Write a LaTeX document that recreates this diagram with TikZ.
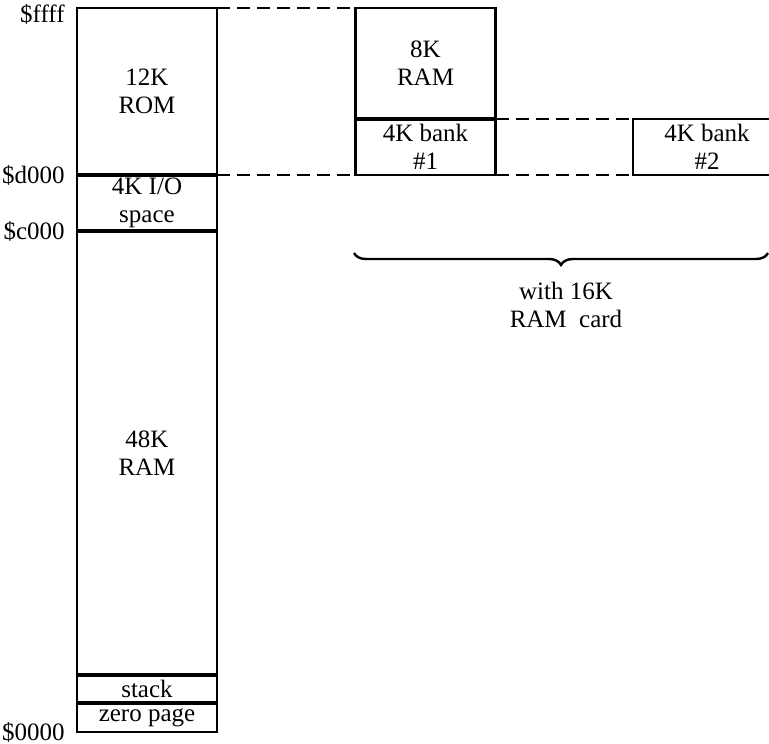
\documentclass[tikz,border=0pt]{standalone}
\usepackage{fontspec}
\setmainfont{Liberation Serif}
\usetikzlibrary{positioning,decorations.pathreplacing}
\newcommand{\mapfont}{\fontsize{12.5}{14}\selectfont}

\begin{document}
\begin{tikzpicture}[x=0.5pt,y=-0.5pt,
    blk/.style={draw,line width=1.1pt,minimum width=70pt,inner sep=0pt,
      outer sep=0pt,align=center,font=\mapfont},
    sep/.style={line width=2pt},
    dsh/.style={line width=0.9pt,dash pattern=on 6.5pt off 3.5pt},
    adr/.style={inner sep=0pt,font=\mapfont}]
    \useasboundingbox (0,0) rectangle (769,743);
    % main memory column
    \node[blk,minimum height=83.5pt] (rom) at (147,91.5) {12K\\ROM};
    \node[blk,minimum height=28pt,below=0pt of rom] (io) {4K I/O\\space};
    \node[blk,minimum height=222pt,below=0pt of io] (ram) {48K\\RAM};
    \node[blk,minimum height=14pt,below=0pt of ram] (stk) {stack};
    \node[blk,minimum height=14.5pt,below=0pt of stk] (zp) {zero page};
    \draw[sep] (rom.south west)--(rom.south east);
    \draw[sep] (io.south west)--(io.south east);
    \draw[sep] (ram.south west)--(ram.south east);
    \draw[sep] (stk.south west)--(stk.south east);
    % addresses
    \node[adr,left=6pt of rom.north west,yshift=-3pt] (affff) {\$ffff};
    \node[adr,left=6pt of io.north west] (ad000) {\$d000};
    \node[adr,left=6pt of ram.north west] (ac000) {\$c000};
    \node[adr,left=6pt of zp.south west] (a0000) {\$0000};
    % RAM card
    \node[blk,minimum height=55.5pt] (ram8) at (425.5,63.5) {8K\\RAM};
    \node[blk,minimum height=28pt,below=0pt of ram8] (bk1) {4K bank\\\#1};
    \node[blk,minimum height=28pt,minimum width=74pt] (bk2) at (707,147) {4K bank\\\#2};
    \draw[sep] (ram8.south west)--(ram8.south east);
    \draw[dsh] (rom.north east)--(ram8.north west);
    \draw[dsh] (rom.south east)--(bk1.south west);
    \draw[dsh] (bk1.north east)--(bk2.north west);
    \draw[dsh] (bk1.south east)--(bk2.south west);
    \coordinate (bl) at (354,253);
    \coordinate (br) at (768,253);
    \draw[decorate,decoration={brace,mirror,amplitude=6pt},line width=1.2pt] (bl)--(br);
    \node[adr,align=center] (card) at (566,305) {with 16K\\RAM\ \ card};
  \end{tikzpicture}
\end{document}
